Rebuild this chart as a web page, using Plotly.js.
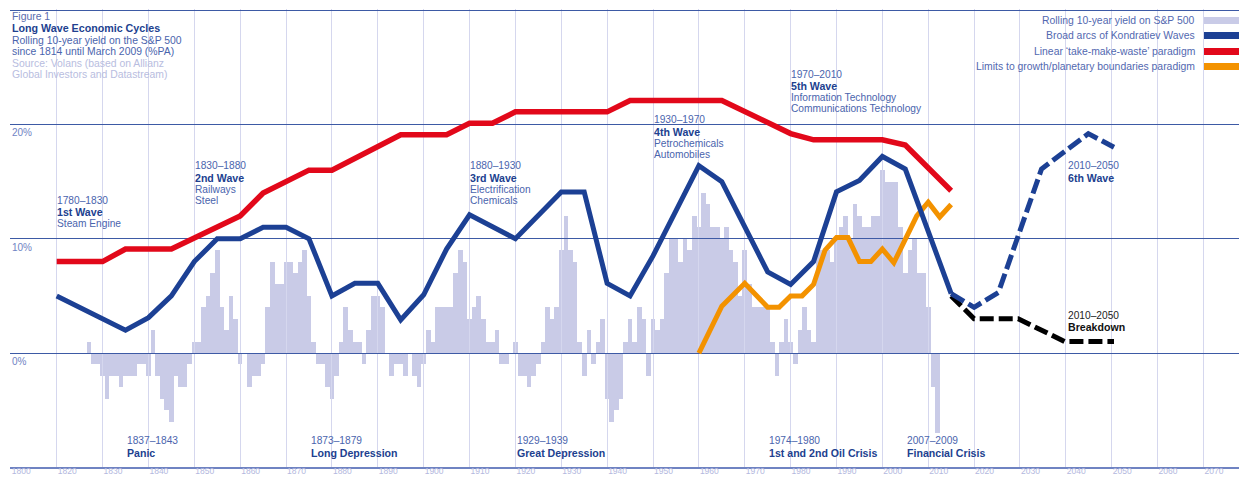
<!DOCTYPE html>
<html><head><meta charset="utf-8">
<script src="https://cdn.plot.ly/plotly-3.0.1.min.js"></script>
<style>html,body{margin:0;padding:0;background:#fff;} #chart{width:1239px;height:477px;}</style>
</head><body><div id="chart"></div>
<script>
// ---- Data ----
const barYears = [
  1827,1828,1829,
  1830,1831,1832,1833,1834,1835,1836,1837,1838,1839,
  1840,1841,1842,1843,1844,1845,1846,1847,1848,1849,
  1850,1851,1852,1853,1854,1855,1856,1857,1858,1859,
  1860,1861,1862,1863,1864,1865,1866,1867,1868,1869,
  1870,1871,1872,1873,1874,1875,1876,1877,1878,1879,
  1880,1881,1882,1883,1884,1885,1886,1887,1888,1889,
  1890,1891,1892,1893,1894,1895,1896,1897,1898,1899,
  1900,1901,1902,1903,1904,1905,1906,1907,1908,1909,
  1910,1911,1912,1913,1914,1915,1916,1917,1918,1919,
  1920,1921,1922,1923,1924,1925,1926,1927,1928,1929,
  1930,1931,1932,1933,1934,1935,1936,1937,1938,1939,
  1940,1941,1942,1943,1944,1945,1946,1947,1948,1949,
  1950,1951,1952,1953,1954,1955,1956,1957,1958,1959,
  1960,1961,1962,1963,1964,1965,1966,1967,1968,1969,
  1970,1971,1972,1973,1974,1975,1976,1977,1978,1979,
  1980,1981,1982,1983,1984,1985,1986,1987,1988,1989,
  1990,1991,1992,1993,1994,1995,1996,1997,1998,1999,
  2000,2001,2002,2003,2004,2005,2006,2007,2008,2009,
  2010,2011,2012
];
const barValues = [
  1,-1,-1,
  -2,-4,-2,-2,-3,-2,-2,-2,-1,-1,
  -2,2,-2,-4,-5,-6,-2,-3,-3,-1,
  1,1,4,5,7,9,4,2,5,3,
  -1,0,-3,-2,-2,-1,4,8,6,6,
  8,8,7,8,9,5,1,-1,-1,-3,
  -4,-2,1,4,2,1,1,-1,2,5,
  5,4,0,-2,-1,-1,-2,0,-2,-3,
  -1,2,1,4,4,4,4,7,9,8,
  3,4,5,3,1,1,2,-1,-1,0,
  1,-2,-2,-3,-2,-1,1,4,3,4,
  9,12,9,8,1,-2,2,-1,1,3,
  -4,-6,-5,-4,1,3,1,4,3,-2,
  3,2,3,7,10,10,8,10,9,12,
  11,14,13,11,11,10,11,9,8,5,
  9,6,4,4,4,4,1,-2,1,3,
  1,-1,2,4,2,1,9,9,9,8,
  10,11,12,10,13,12,11,11,12,12,
  16,15,15,15,11,7,9,10,7,7,
  4,-3,-7
];
const kondYears  = [1820,1835,1840,1845,1850,1855,1860,1865,1870,1875,1880,1885,1890,1895,1900,1905,1910,1920,1930,1935,1940,1945,1950,1960,1965,1975,1980,1985,1990,1995,2000,2005,2015];
const kondValues = [5,2,3.1,5,8,10,10,11,11,10,5,6.1,6.1,2.9,5.1,9.1,12.1,10,14.1,14.1,6.1,5,8.5,16.4,15,7.1,6,8,14.1,15.1,17.2,16.1,5.2];
const takeYears  = [1820,1830,1835,1845,1860,1865,1875,1880,1895,1905,1910,1915,1920,1940,1945,1965,1980,1985,2000,2005,2015];
const takeValues = [8,8,9.1,9.1,12,14,16,16,19.1,19.1,20.1,20.1,21.1,21.1,22.1,22.1,19.2,18.65,18.65,18.2,14.2];
const limitsYears  = [1960,1965,1970,1975,1977.5,1980,1982.5,1985,1987.5,1990,1992.5,1995,1997.5,2000,2002.5,2005,2007.5,2010,2012.5,2015];
const limitsValues = [0,4.1,6.1,4,4,5,5,6,9,10.1,10.1,8,8,9.1,7.9,10,12,13.2,11.9,13];
const sixthYears  = [2015,2020,2025.3,2034.7,2044.9,2050.5];
const sixthValues = [5.2,4,5.3,16.1,19.2,18];
const breakYears  = [2015,2020,2029.6,2039.8,2050.5];
const breakValues = [5,3,3,1,1];
const tickYears  = [1810,1820,1830,1840,1850,1860,1870,1880,1890,1900,1910,1920,1930,1940,1950,1960,1970,1980,1990,2000,2010,2020,2030,2040,2050,2060,2070];
const tickLabels = ["1800","1820","1830","1840","1850","1860","1870","1880","1890","1900","1910","1920","1930","1940","1950","1960","1970","1980","1990","2000","2010","2020","2030","2040","2050","2060","2070"];
const yTicks = [0,10,20,30];
const yTickLabels = ["0%","10%","20%"];

// ---- Styling ----
const FONT = "Liberation Sans, Arial, Helvetica, sans-serif";
const C_BAR = "#c9cbe7", C_BLUE = "#1c4094", C_RED = "#e2081a", C_ORANGE = "#f39200";
const C_TXT = "#4a64ad", C_BOLD = "#213f8f", C_LIGHT = "#b8bde0";
const XR = [1809.82, 2077.75], YR = [-9.97, 30.1];
const PX = p => (p - 10) / 1229;
const PY = p => (467 - p) / 458;

const traces = [
  {type:"bar", x:barYears, y:barValues, xaxis:"x", yaxis:"y", width:1,
   marker:{color:C_BAR, line:{width:0}}, hoverinfo:"skip"},
  {type:"scatter", mode:"lines", x:takeYears, y:takeValues, xaxis:"x2", yaxis:"y2",
   line:{color:C_RED, width:5.5}},
  {type:"scatter", mode:"lines", x:limitsYears, y:limitsValues, xaxis:"x2", yaxis:"y2",
   line:{color:C_ORANGE, width:5}},
  {type:"scatter", mode:"lines", x:breakYears, y:breakValues, xaxis:"x2", yaxis:"y2",
   line:{color:"#000000", width:5, dash:"14px,5px"}},
  {type:"scatter", mode:"lines", x:sixthYears, y:sixthValues, xaxis:"x2", yaxis:"y2",
   line:{color:C_BLUE, width:5, dash:"15px,5px"}},
  {type:"scatter", mode:"lines", x:kondYears, y:kondValues, xaxis:"x2", yaxis:"y2",
   line:{color:C_BLUE, width:5}}
];

const ann = [];
function lab(px, py, text, color, size, bold, anchor) {
  ann.push({xref:"paper", yref:"paper", x:PX(px), y:PY(py), xanchor:anchor||"left", yanchor:"middle",
    text: bold ? "<b>"+text+"</b>" : text, showarrow:false, borderpad:0,
    font:{family:FONT, size:size, color:color}});
}
// title block
lab(11, 16.5, "Figure 1", "#5a6cae", 10.4);
lab(11, 28, "Long Wave Economic Cycles", C_BOLD, 10.7, true);
lab(11, 40.5, "Rolling 10-year yield on the S&P 500", C_TXT, 10.4);
lab(11, 51.5, "since 1814 until March 2009 (%PA)", C_TXT, 10.4);
lab(11, 63, "Source: Volans (based on Allianz", C_LIGHT, 10.4);
lab(11, 74, "Global Investors and Datastream)", C_LIGHT, 10.4);
// legend
const legendItems = [
  ["Rolling 10-year yield on S&P 500", C_BAR, 20.5],
  ["Broad arcs of Kondratiev Waves", C_BLUE, 35.5],
  ["Linear ‘take-make-waste’ paradigm", C_RED, 51.5],
  ["Limits to growth/planetary boundaries paradigm", C_ORANGE, 66.5]
];
const shapes = [];
legendItems.forEach(([t, c, y]) => {
  lab(1196, y, t, "#5268b0", 10.4, false, "right");
  shapes.push({type:"rect", xref:"paper", yref:"paper", x0:PX(1204), x1:1, y0:PY(y+3.5), y1:PY(y-3.5),
    fillcolor:c, line:{width:0}, layer:"above"});
});
// wave labels
function wave(px, py, lines) {
  lines.forEach((l, i) => lab(px, py + i*11.6, l[0], l[1] ? C_BOLD : C_TXT, l[1] ? 10.6 : 10.2, l[1]));
}
wave(56, 200, [["1780–1830"],["1st Wave",1],["Steam Engine"]]);
wave(194, 166, [["1830–1880"],["2nd Wave",1],["Railways"],["Steel"]]);
wave(469, 166, [["1880–1930"],["3rd Wave",1],["Electrification"],["Chemicals"]]);
wave(653, 120, [["1930–1970"],["4th Wave",1],["Petrochemicals"],["Automobiles"]]);
wave(790, 74, [["1970–2010"],["5th Wave",1],["Information Technology"],["Communications Technology"]]);
wave(1067, 166, [["2010–2050"],["6th Wave",1]]);
lab(1067, 315, "2010–2050", "#222222", 10.2);
lab(1067, 327, "Breakdown", "#111111", 10.6, true);
// crisis labels
[[126,"1837–1843","Panic"],[310,"1873–1879","Long Depression"],[516,"1929–1939","Great Depression"],
 [768,"1974–1980","1st and 2nd Oil Crisis"],[906,"2007–2009","Financial Crisis"]].forEach(([x,a,b]) => {
  lab(x, 440, a, C_TXT, 10.2);
  lab(x, 452.5, b, C_BOLD, 10.6, true);
});
// y tick labels
yTickLabels.forEach((t, i) => {
  ann.push({xref:"paper", yref:"y2", x:PX(11), y:yTicks[i], xanchor:"left", yanchor:"middle", yshift:-8.5,
    text:t, showarrow:false, borderpad:0, font:{family:FONT, size:10, color:"#7084c4"}});
});

const layout = {
  width:1239, height:477,
  margin:{l:10, r:0, t:9, b:10, pad:0},
  paper_bgcolor:"#ffffff", plot_bgcolor:"rgba(0,0,0,0)",
  showlegend:false, bargap:0,
  font:{family:FONT},
  xaxis:{range:XR, domain:[0,1], anchor:"y", showgrid:false, zeroline:false, showticklabels:false, showline:false, fixedrange:true},
  yaxis:{range:YR, domain:[0,1], anchor:"x", showgrid:false, zeroline:false, showticklabels:false, showline:false, fixedrange:true},
  xaxis2:{range:XR, domain:[0,1], anchor:"y2", tickmode:"array", tickvals:tickYears, ticktext:tickLabels,
    showgrid:true, gridcolor:"#d5d7ee", gridwidth:1, zeroline:false, ticks:"",
    ticklabelposition:"outside right", ticklabelstandoff:-5, tickfont:{family:FONT, size:8.5, color:"#b3b8de"},
    showline:true, linecolor:"#6f83c2", linewidth:2, automargin:false, fixedrange:true},
  yaxis2:{range:YR, domain:[0,1], anchor:"x2", tickmode:"array", tickvals:yTicks,
    showgrid:true, gridcolor:"#3d5aa5", gridwidth:1, zeroline:false, showticklabels:false, ticks:"",
    automargin:false, fixedrange:true},
  annotations:ann, shapes:shapes
};
Plotly.newPlot("chart", traces, layout, {staticPlot:true, displayModeBar:false});
</script></body></html>
